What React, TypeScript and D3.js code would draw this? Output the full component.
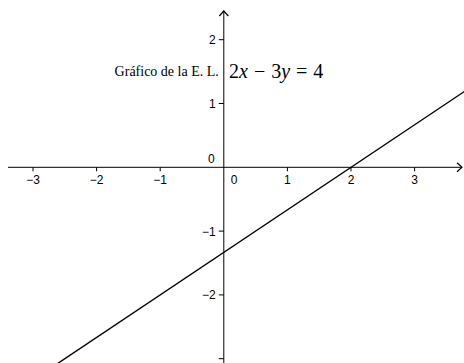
import React from "react";
import * as d3 from "d3";

const W = 464;
const H = 363;

// Axis tick values
const xTicks = [-3, -2, -1, 1, 2, 3];
const yTicks = [-3, -2, -1, 1, 2];
const yTickLabels = ["", "−2", "−1", "1", "2"];
const xTickLabels = ["−3", "−2", "−1", "1", "2", "3"];

// Two points on the line 2x − 3y = 4
const linePoints: [number, number][] = [
  [-4, -4],
  [4, 4 / 3],
];

const title = "Gráfico de la E. L.";

export default function App() {
  const x = d3.scaleLinear().domain([0, 1]).range([223.8, 287.4]);
  const y = d3.scaleLinear().domain([0, 1]).range([167.3, 103.5]);
  const x0 = x(0);
  const y0 = y(0);
  const line = d3
    .line<[number, number]>()
    .x((d) => x(d[0]))
    .y((d) => y(d[1]));

  const sans = "'Liberation Sans', Arial, sans-serif";
  const serif = "'Liberation Serif', 'Times New Roman', serif";

  return (
    <svg
      width={W}
      height={H}
      style={{ position: "absolute", left: 0, top: 0, background: "#fff" }}
    >
      <defs>
        <clipPath id="clip">
          <rect x={0} y={0} width={W} height={H} />
        </clipPath>
      </defs>
      {/* x axis */}
      <line x1={8} x2={462} y1={y0} y2={y0} stroke="#000" strokeWidth={1} />
      <path
        d={`M${457},${y0 - 4.5}L${462},${y0}L${457},${y0 + 4.5}`}
        fill="none"
        stroke="#000"
        strokeWidth={1.2}
      />
      {xTicks.map((t, i) => (
        <g key={"xt" + t}>
          <line x1={x(t)} x2={x(t)} y1={y0} y2={y0 + 4} stroke="#000" />
          <text
            x={x(t)}
            y={y0 + 17}
            textAnchor="middle"
            fontFamily={sans}
            fontSize={12}
            fill="#000"
          >
            {xTickLabels[i]}
          </text>
        </g>
      ))}
      {/* y axis */}
      <line x1={x0} x2={x0} y1={11} y2={H} stroke="#000" strokeWidth={1} />
      <path
        d={`M${x0 - 4.5},${16}L${x0},${11}L${x0 + 4.5},${16}`}
        fill="none"
        stroke="#000"
        strokeWidth={1.2}
      />
      {yTicks.map((t, i) => (
        <g key={"yt" + t}>
          <line x1={x0 - 5} x2={x0} y1={y(t)} y2={y(t)} stroke="#000" />
          <text
            x={x0 - 8}
            y={y(t) + 4.5}
            textAnchor="end"
            fontFamily={sans}
            fontSize={12}
            fill="#000"
          >
            {yTickLabels[i]}
          </text>
        </g>
      ))}
      {/* origin labels */}
      <text x={x0 - 9} y={y0 - 4} textAnchor="end" fontFamily={sans} fontSize={12}>
        0
      </text>
      <text x={x0 + 7} y={y0 + 17} fontFamily={sans} fontSize={12}>
        0
      </text>
      {/* graph line */}
      <path
        d={line(linePoints) || ""}
        fill="none"
        stroke="#000"
        strokeWidth={1.4}
        clipPath="url(#clip)"
      />
      {/* title */}
      <text x={x0 - 5} y={76} textAnchor="end" fontFamily={serif} fontSize={14}>
        {title}
      </text>
      <text x={229} y={78} fontFamily={serif} fontSize={20}>
        <tspan>2</tspan>
        <tspan fontStyle="italic">x</tspan>
        <tspan dx={6}>−</tspan>
        <tspan dx={6}>3</tspan>
        <tspan fontStyle="italic">y</tspan>
        <tspan dx={6}>=</tspan>
        <tspan dx={6}>4</tspan>
      </text>
    </svg>
  );
}
